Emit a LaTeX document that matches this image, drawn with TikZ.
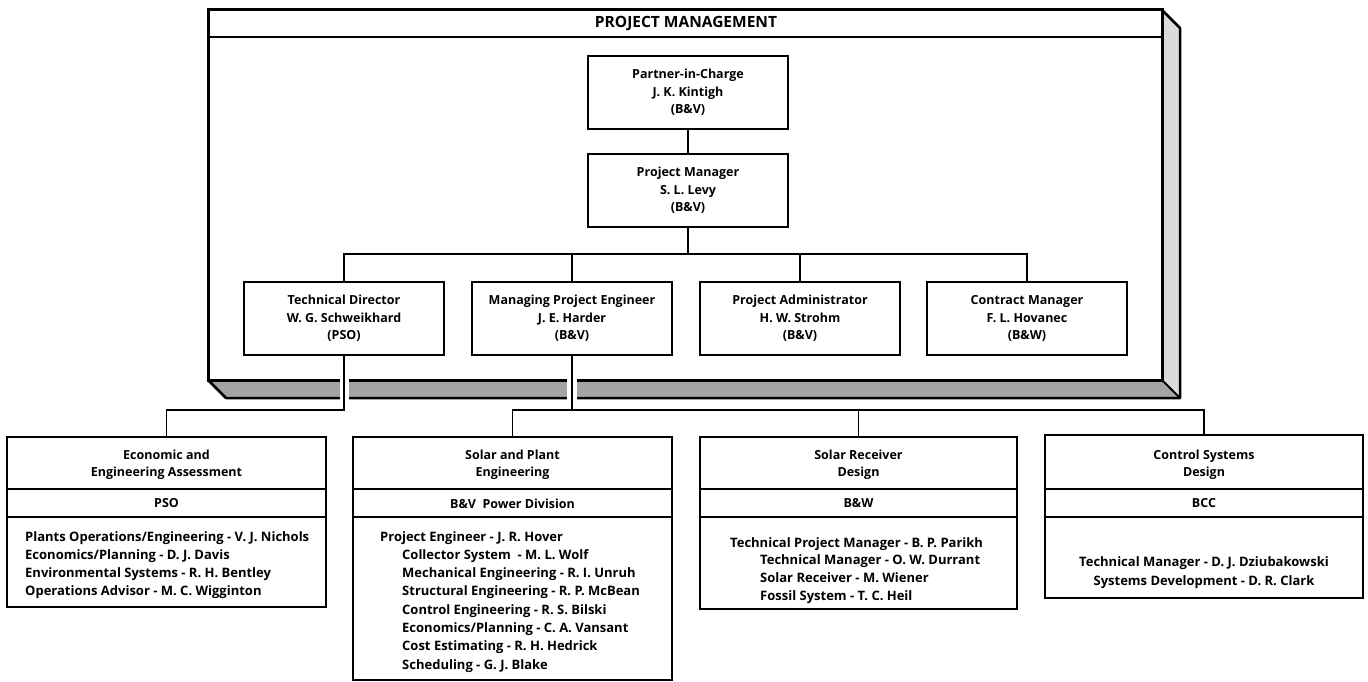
\documentclass[tikz,border=0pt]{standalone}
\usepackage{fontspec}
\setmainfont{Open Sans}
\begin{document}
\begin{tikzpicture}[x=1pt,y=-1pt,
  every node/.style={font=\bfseries\fontsize{12.5}{17.5}\selectfont},
  box/.style={draw, line width=2.2pt, fill=white, minimum width=200pt, minimum height=73pt, align=center, inner sep=0pt},
  unit/.style={draw, line width=2.2pt, inner sep=0pt},
  divider/.style={line width=1.8pt},
  conn/.style={line width=1.8pt},
  body/.style={anchor=north west, align=left, inner sep=0pt, font=\bfseries\fontsize{13}{18.3}\selectfont},
  shadeside/.style={fill=black!14},
  shadebottom/.style={fill=black!36},
]
\useasboundingbox (0,0) rectangle (1368,682);
% 3-D slab of the project management frame
\fill[shadeside] (1162,10) -- (1180,28) -- (1180,398) -- (1162,380) -- cycle;
\fill[shadebottom] (208,380) -- (1162,380) -- (1180,398) -- (226,398) -- cycle;
\draw[line width=2.5pt, line join=round] (1162,10) -- (1180,28) -- (1180,398) -- (226,398) -- (208,380);
\draw[line width=2pt] (1162,380) -- (1180,398);
\draw[line width=3pt, fill=white] (208,10) rectangle (1162,380);
\draw[line width=2.5pt] (208,37) -- (1162,37);
\node (pmtitle) at (686,23.5) {\fontsize{15.5}{17}\selectfont PROJECT MANAGEMENT};
% gaps where connectors cross the slab
\fill[white] (340,376.5) rectangle (349,401);
\fill[white] (567,376.5) rectangle (577,401);

% management boxes
\node[box] (partner) at (688,92.5) {Partner-in-Charge\\J. K. Kintigh\\(B\&V)};
\node[box] (manager) at (688,190.5) {Project Manager\\S. L. Levy\\(B\&V)};
\node[box] (td) at (344,318.5) {Technical Director\\W. G. Schweikhard\\(PSO)};
\node[box] (mpe) at (572,318.5) {Managing Project Engineer\\J. E. Harder\\(B\&V)};
\node[box] (pa) at (800,318.5) {Project Administrator\\H. W. Strohm\\(B\&V)};
\node[box] (cm) at (1027,318.5) {Contract Manager\\F. L. Hovanec\\(B\&W)};

% lower units
\node[unit, minimum width=319pt, minimum height=170pt] (eea) at (166.5,522) {};
\node[unit, minimum width=319pt, minimum height=243pt] (spe) at (512.5,558.5) {};
\node[unit, minimum width=317pt, minimum height=172pt] (srd) at (858.5,523) {};
\node[unit, minimum width=318pt, minimum height=163pt] (csd) at (1204,516.5) {};
\foreach \u in {eea,spe,srd,csd}{
  \draw[divider] (\u.west |- 0,489) -- (\u.east |- 0,489);
  \draw[divider] (\u.west |- 0,517) -- (\u.east |- 0,517);
}
\node[align=center] (eeaT) at (166.5,464.5) {Economic and\\Engineering Assessment};
\node (eeaO) at (166.5,503.5) {PSO};
\node[body] (eeaB) at (25,531) {Plants Operations/Engineering - V. J. Nichols\\Economics/Planning - D. J. Davis\\Environmental Systems - R. H. Bentley\\Operations Advisor - M. C. Wigginton};

\node[align=center] (speT) at (512.5,464.5) {Solar and Plant\\Engineering};
\node (speO) at (512.5,503.5) {B\&V\ \ Power Division};
\node[body] (speB) at (380,531) {Project Engineer - J. R. Hover\\
\hspace*{22pt}Collector System\ \ - M. L. Wolf\\
\hspace*{22pt}Mechanical Engineering - R. I. Unruh\\
\hspace*{22pt}Structural Engineering - R. P. McBean\\
\hspace*{22pt}Control Engineering - R. S. Bilski\\
\hspace*{22pt}Economics/Planning - C. A. Vansant\\
\hspace*{22pt}Cost Estimating - R. H. Hedrick\\
\hspace*{22pt}Scheduling - G. J. Blake};

\node[align=center] (srdT) at (858.5,464.5) {Solar Receiver\\Design};
\node (srdO) at (858.5,503.5) {B\&W};
\node[body, font=\bfseries\fontsize{13}{17.8}\selectfont] (srdB) at (730,537) {Technical Project Manager - B. P. Parikh\\
\hspace*{30pt}Technical Manager - O. W. Durrant\\
\hspace*{30pt}Solar Receiver - M. Wiener\\
\hspace*{30pt}Fossil System - T. C. Heil};

\node[align=center] (csdT) at (1204,464.5) {Control Systems\\Design};
\node (csdO) at (1204,503.5) {BCC};
\node[align=center, font=\bfseries\fontsize{13}{18.3}\selectfont] (csdB) at (1204,572.5) {Technical Manager - D. J. Dziubakowski\\Systems Development - D. R. Clark};

% connectors
\coordinate (busA) at (688,254);
\coordinate (busB) at (0,410);
\draw[conn] (partner.south) -- (manager.north);
\draw[conn] (manager.south) -- (busA);
\draw[conn] (td.north) |- (busA) -| (cm.north);
\draw[conn] (mpe.north) -- (mpe.north |- busA);
\draw[conn] (pa.north) -- (pa.north |- busA);
\draw[conn] (td.south) -- (td.south |- busB) -| (eea.north);
\draw[conn] (mpe.south) -- (mpe.south |- busB);
\draw[conn] (spe.north) |- (csd.north |- busB) -- (csd.north);
\draw[conn] (srd.north) -- (srd.north |- busB);
\end{tikzpicture}
\end{document}
